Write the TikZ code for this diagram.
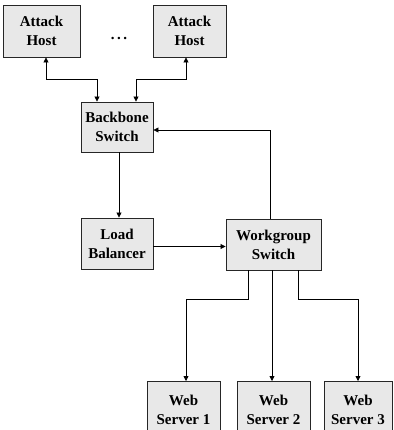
\documentclass[tikz,border=0pt]{standalone}
\usepackage{fontspec}
\setmainfont{Liberation Serif}
\usetikzlibrary{arrows.meta}
\begin{document}
\begin{tikzpicture}[x=1pt,y=-1pt,
  lbl/.style={align=center,font=\fontsize{15}{19}\selectfont\bfseries,inner sep=0pt},
  box/.style={lbl,draw=black!85,line width=0.9pt,fill=black!9,rectangle},
  conn/.style={line width=0.8pt,-{Triangle[length=5pt,width=5pt]}},
  conn2/.style={line width=0.8pt,{Triangle[length=5pt,width=5pt]}-{Triangle[length=5pt,width=5pt]}}]
\useasboundingbox (0,0) rectangle (393,430);
\clip (0,0) rectangle (393,430);
\node[box,minimum width=77pt,minimum height=52pt] (a1) at (41.5,31) {Attack\\Host};
\node[box,minimum width=73pt,minimum height=52pt] (a2) at (189.5,31) {Attack\\Host};
\node[lbl] (dots) at (119,39) {.\,.\,.};
\node[box,minimum width=72pt,minimum height=50pt] (bb) at (117,127) {Backbone\\Switch};
\node[box,minimum width=72pt,minimum height=51pt] (lb) at (117,243.5) {Load\\Balancer};
\node[box,minimum width=95pt,minimum height=51pt] (wg) at (273.5,244.5) {Workgroup\\Switch};
\node[box,minimum width=73pt,minimum height=70pt,anchor=north] (s1) at (183.5,381) {};
\node[box,minimum width=73pt,minimum height=70pt,anchor=north] (s2) at (273.5,381) {};
\node[box,minimum width=68pt,minimum height=70pt,anchor=north] (s3) at (358,381) {};
\node[lbl,anchor=north] (t1) at (183.5,395) {Web\\Server 1};
\node[lbl,anchor=north] (t2) at (273.5,395) {Web\\Server 2};
\node[lbl,anchor=north] (t3) at (358,395) {Web\\Server 3};
\draw[conn2] ([xshift=4.5pt]a1.south) -- ++(0,22) -| ([xshift=-20pt]bb.north);
\draw[conn2] ([xshift=-3.5pt]a2.south) -- ++(0,22) -| ([xshift=19pt]bb.north);
\draw[conn] ([xshift=-3.5pt]wg.north) |- ([yshift=-3pt]bb.east);
\draw[conn] ([xshift=2pt]bb.south) -- ([xshift=2pt]lb.north);
\draw[conn] ([yshift=-3pt]lb.east) -- ([yshift=-3pt]lb.east -| wg.west);
\draw[conn] ([xshift=-25.5pt]wg.south) -- ++(0,29) -| ([xshift=2.5pt]s1.north);
\draw[conn] ([xshift=-1.5pt]wg.south) -- ([xshift=-1.5pt]s2.north);
\draw[conn] ([xshift=24.5pt]wg.south) -- ++(0,29) -| (s3.north);
\end{tikzpicture}
\end{document}
